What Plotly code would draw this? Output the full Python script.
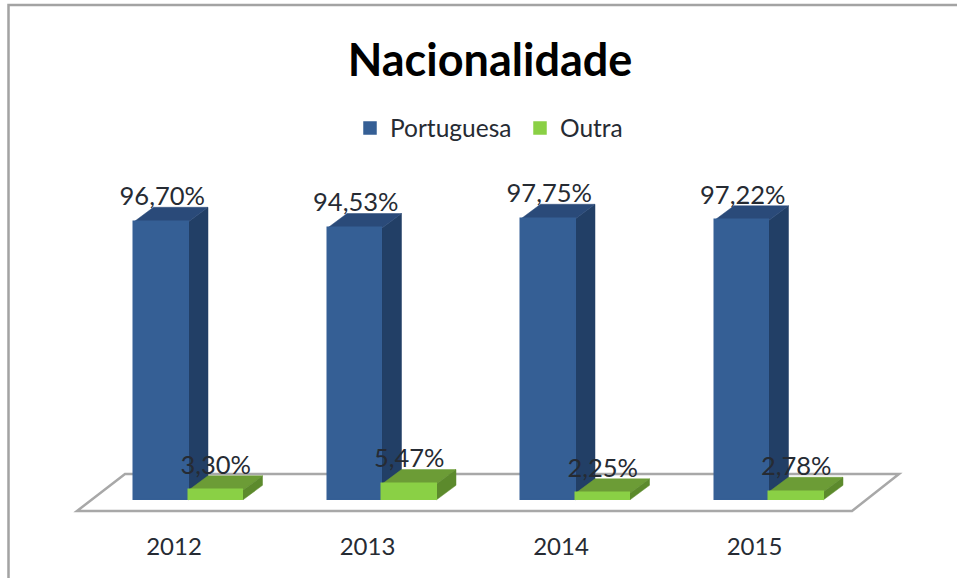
import plotly.graph_objects as go

years = ["2012", "2013", "2014", "2015"]
portuguesa = [96.70, 94.53, 97.75, 97.22]
outra = [3.30, 5.47, 2.25, 2.78]
labels_portuguesa = ["96,70%", "94,53%", "97,75%", "97,22%"]
labels_outra = ["3,30%", "5,47%", "2,25%", "2,78%"]

W, H = 957, 578
PLOT_BOTTOM = 530
PX_X = 193.5        # pixels per category
PX_Y = 2.875        # pixels per percentage point
ORIGIN_X = 188.5    # pixel of first category boundary between bars
BASE_Y = 499.8      # pixel of the value 0

fx = lambda px: px / PX_X
fy = lambda px: px / PX_Y
BAR_W = fx(54.5)
DX, DY = fx(19.5), fy(14.5)
idx = list(range(len(years)))


def face(points, color):
    d = "M" + " L".join(f"{x},{y}" for x, y in points) + " Z"
    return dict(type="path", path=d, xref="x", yref="y", fillcolor=color,
                line=dict(color=color, width=0.5), layer="below")


shapes = []
# frame of the picture (left and top edges)
shapes.append(dict(type="path", xref="paper", yref="paper", layer="below",
                   path=f"M{8.5/W},{-48/530} L{8.5/W},{1-5/530} L1,{1-5/530}",
                   line=dict(color="#a3a3a3", width=2.5)))
# floor
fl, fr, bl, br = fx(77 - ORIGIN_X), fx(852 - ORIGIN_X), fx(125 - ORIGIN_X), fx(899 - ORIGIN_X)
fb, bb = fy(BASE_Y - 511), fy(BASE_Y - 474)
shapes.append(dict(type="path", xref="x", yref="y", layer="below",
                   path=f"M{fl},{fb} L{fr},{fb} L{br},{bb} L{bl},{bb} Z",
                   fillcolor="white", line=dict(color="#a8a8a8", width=2.5)))

for i in idx:
    # Portuguesa depth faces
    v = portuguesa[i]
    x0, x1 = i - BAR_W, i
    shapes.append(face([(x1, 0), (x1 + DX, DY), (x1 + DX, v + DY), (x1, v)], "#223f66"))
    shapes.append(face([(x0, v), (x0 + DX, v + DY), (x1 + DX, v + DY), (x1, v)], "#2a4a79"))
    # Outra depth faces
    v = outra[i]
    x0, x1 = i, i + BAR_W
    shapes.append(face([(x0, v), (x0 + DX, v + DY), (x1 + DX, v + DY), (x1, v)], "#6c9c36"))
    shapes.append(face([(x1, 0), (x1 + DX, DY), (x1 + DX, v + DY), (x1, v)], "#5c8a2c"))

fig = go.Figure()
fig.add_trace(go.Bar(name="Portuguesa", x=idx, y=portuguesa, width=BAR_W, offset=-BAR_W,
                     marker=dict(color="#355f95", line=dict(color="#355f95", width=1.5))))
fig.add_trace(go.Bar(name="Outra", x=idx, y=outra, width=BAR_W, offset=0,
                     marker=dict(color="#8ad045", line=dict(color="#8ad045", width=1.5))))

LIFT = fy(23)
label_font = dict(family="Lato, Carlito, sans-serif", size=25.5, color="#262b33")
fig.add_trace(go.Scatter(x=[i - BAR_W / 2 + fx(1) for i in idx], y=[v + LIFT for v in portuguesa],
                         mode="text", text=labels_portuguesa, textfont=label_font,
                         textposition="middle center", showlegend=False, hoverinfo="skip"))
fig.add_trace(go.Scatter(x=[i + BAR_W / 2 for i in idx], y=[v + LIFT for v in outra],
                         mode="text", text=labels_outra, textfont=label_font,
                         textposition="middle center", showlegend=False, hoverinfo="skip"))

fig.update_layout(
    width=W, height=H,
    margin=dict(l=0, r=0, t=0, b=H - PLOT_BOTTOM, pad=0),
    paper_bgcolor="white", plot_bgcolor="rgba(0,0,0,0)",
    font=dict(family="Lato, Carlito, sans-serif", color="#262626"),
    title=dict(text="<b>Nacionalidade</b>", x=490 / W, xanchor="center", y=1 - 60 / H, yanchor="middle",
               font=dict(family="Lato, Carlito, sans-serif", size=45, color="#000000")),
    legend=dict(orientation="h", x=350 / W, xanchor="left", y=1 - 128 / PLOT_BOTTOM, yanchor="middle",
                font=dict(size=24.5, color="#262b33"), entrywidth=125, entrywidthmode="pixels",
                bgcolor="rgba(0,0,0,0)", traceorder="normal"),
    shapes=shapes,
    bargap=0,
    showlegend=True,
    xaxis=dict(range=[-ORIGIN_X / PX_X, (W - ORIGIN_X) / PX_X], tickmode="array",
               tickvals=[i - fx(14.5) for i in idx], ticktext=years, showgrid=False, zeroline=False,
               showline=False, ticks="", tickfont=dict(size=24, color="#262b33")),
    yaxis=dict(range=[(BASE_Y - PLOT_BOTTOM) / PX_Y, BASE_Y / PX_Y], visible=False, showgrid=False),
)
fig.write_html("out.html", config={"displayModeBar": False},
               post_script="document.body.style.margin='0';document.body.style.overflow='hidden';")
